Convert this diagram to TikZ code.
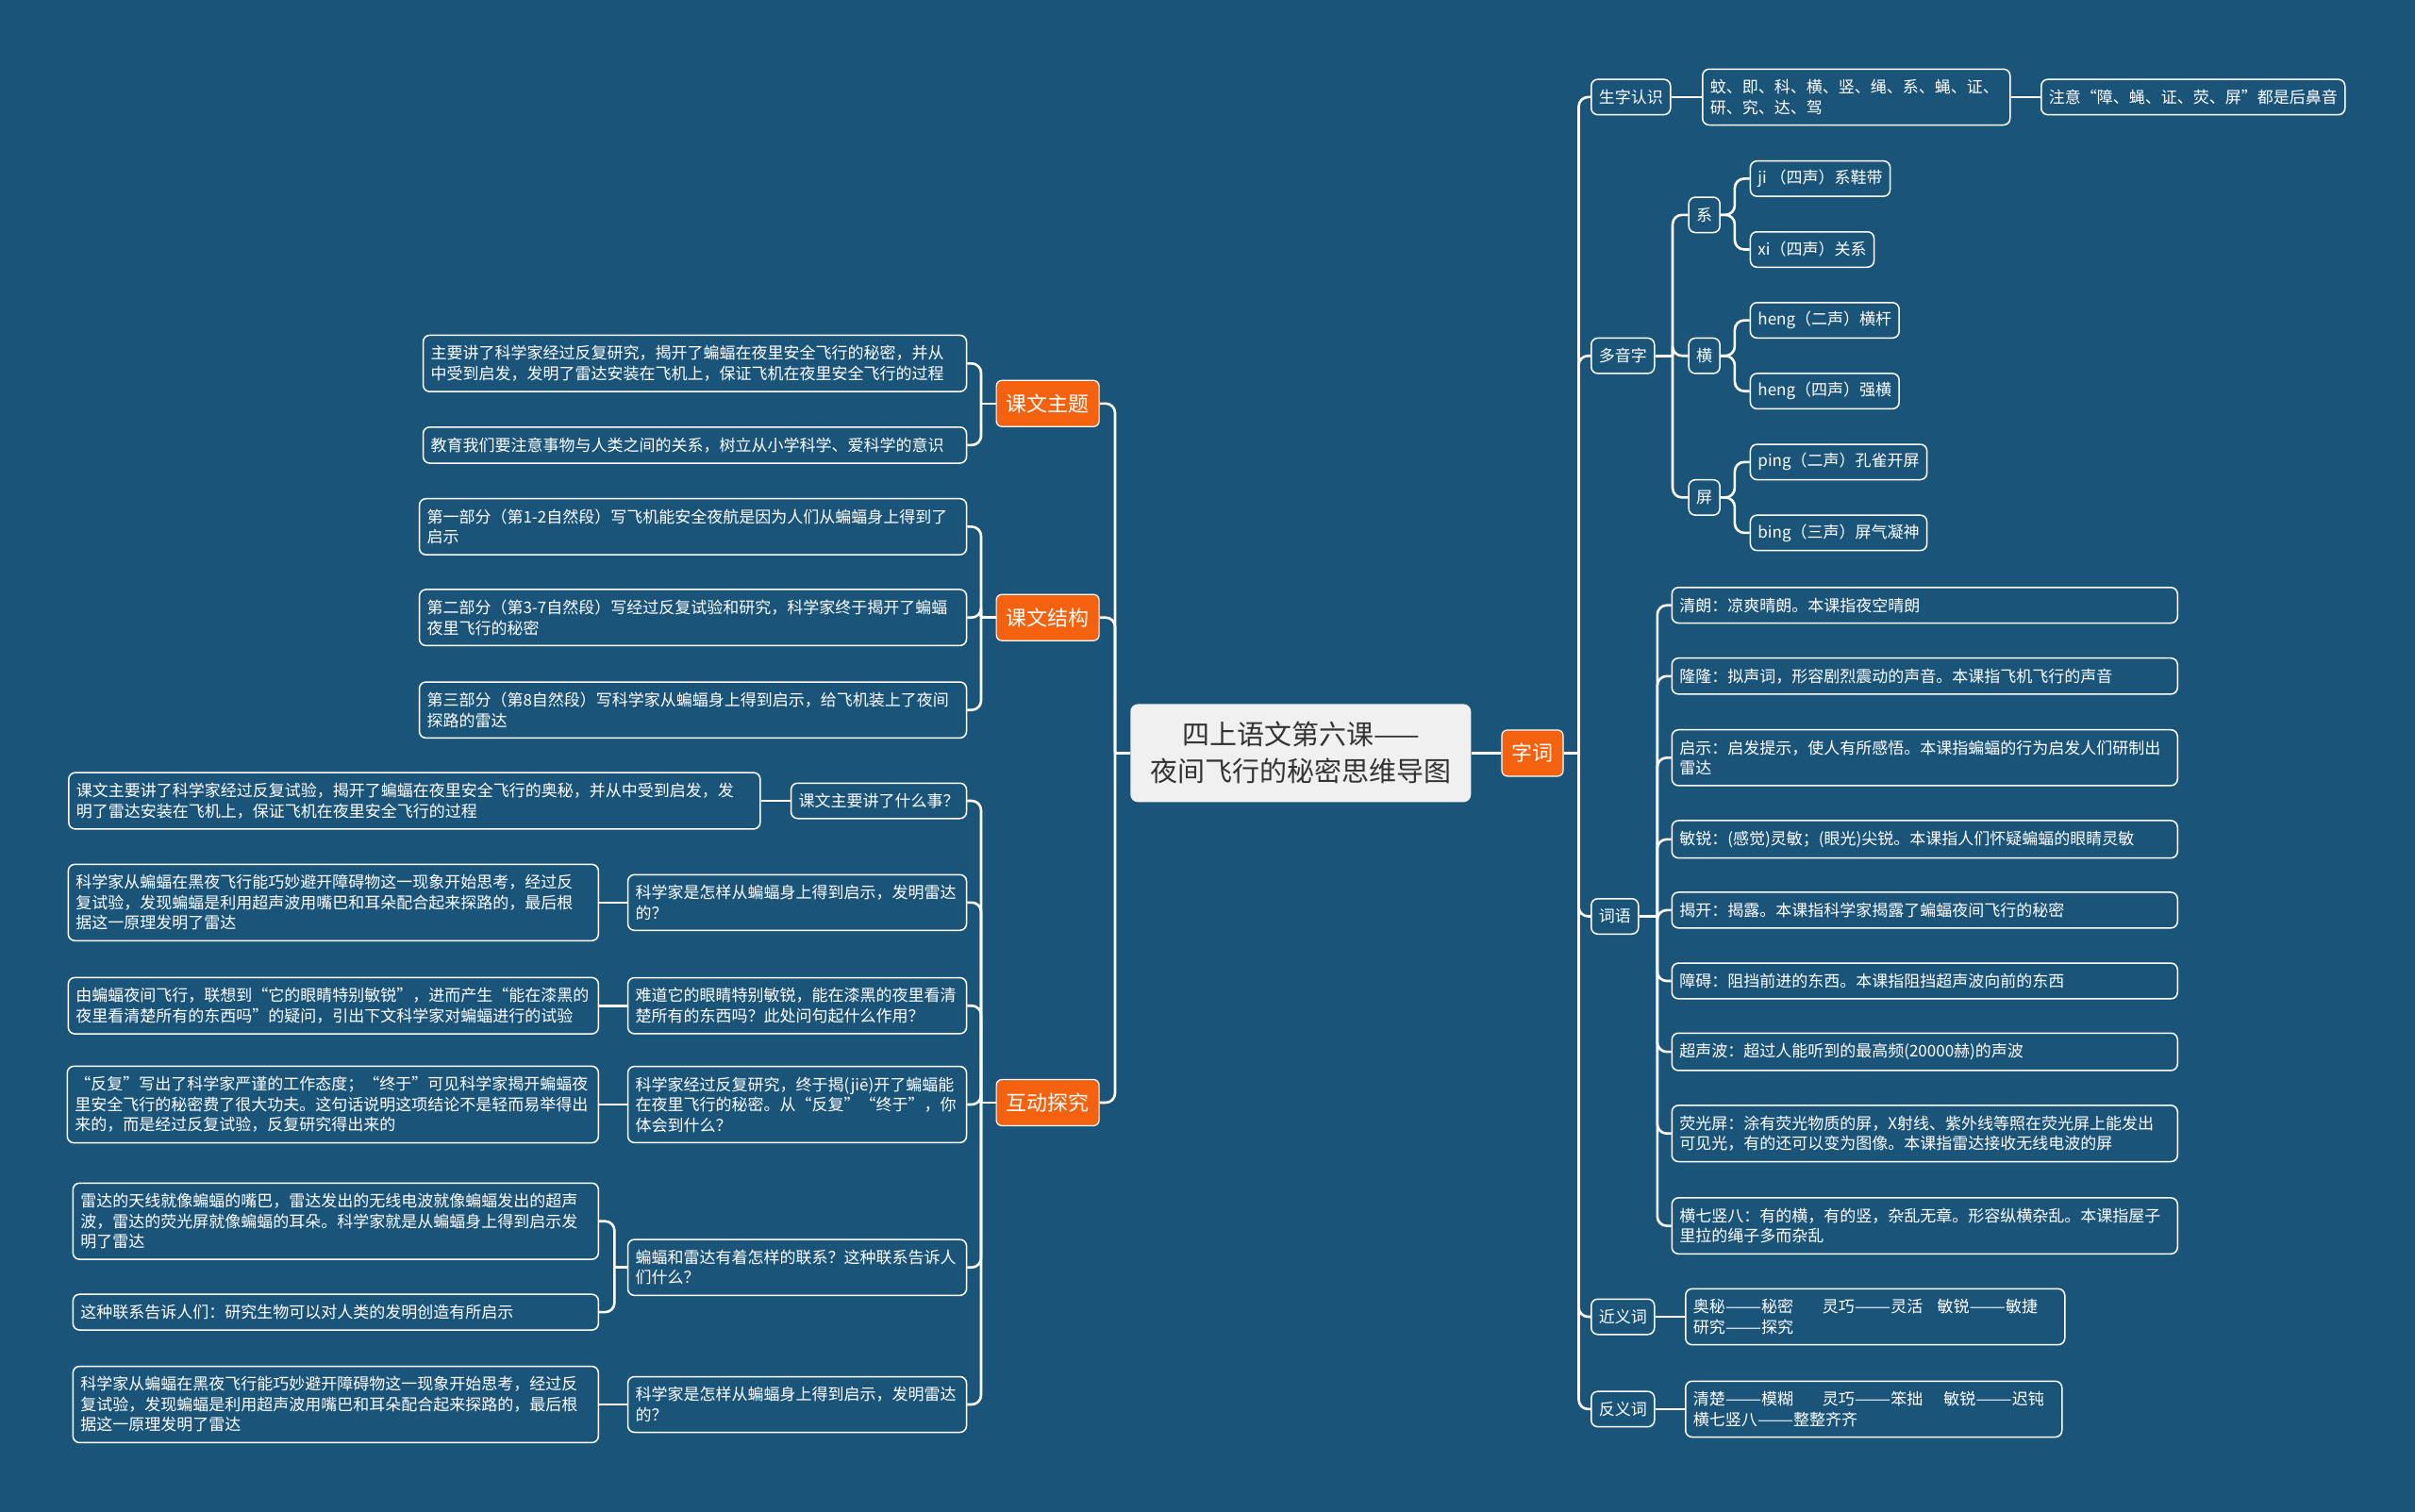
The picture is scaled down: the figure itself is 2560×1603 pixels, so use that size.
\documentclass[tikz,border=0pt]{standalone}
\usepackage{fontspec}
\usepackage{graphicx}
\newfontfamily\cjk{Noto Sans CJK SC}
\newcommand{\pairdash}{\scalebox{1.35}[1]{——}}
\definecolor{bgblue}{RGB}{27,84,121}
\definecolor{topicorange}{RGB}{244,98,16}
\definecolor{rootgray}{RGB}{240,240,240}
\definecolor{roottext}{RGB}{51,51,51}

\begin{document}
\begin{tikzpicture}[x=1pt, y=-1pt,
	rootbox/.style={ fill=rootgray, text=roottext, rounded corners=8pt, font=\cjk\fontsize{29}{39}\selectfont, align=center, minimum width=361pt, minimum height=104pt, inner sep=0pt },
	topicbox/.style={ fill=topicorange, draw=white, line width=1.2pt, rounded corners=6pt, text=white, font=\cjk\fontsize{22}{26}\selectfont, minimum height=49pt, inner xsep=10.5pt },
	tagbox/.style={ draw=white, line width=1.5pt, rounded corners=7pt, text=white, font=\cjk\fontsize{17}{21.5}\selectfont, inner xsep=8pt, minimum height=37.5pt },
	leafbox/.style={ tagbox, align=left, text width=#1, inner ysep=11pt },
	linkline/.style={ draw=white, line width=2.6pt, rounded corners=10pt }
]

\fill[bgblue] (0,0) rectangle (2560,1603);

\node[rootbox] at (1378.8,798.4) (root) {四上语文第六课——\\夜间飞行的秘密思维导图};
\node[topicbox] at (1624.5,798.4) (zici) {字词};

\node[tagbox, anchor=west] at (1686,102.9) (szrs) {生字认识};
\node[leafbox=310pt, anchor=west] at (1804,102.9) (szA) {蚊、即、科、横、竖、绳、系、蝇、证、\\研、究、达、驾};
\node[tagbox, anchor=west] at (2163,102.9) (szB) {注意“障、蝇、证、荧、屏”都是后鼻音};

\node[tagbox, anchor=west] at (1686,377.2) (dyz) {多音字};
\node[tagbox, anchor=west] at (1789.4,227.8) (dxi) {系};
\node[tagbox, anchor=west] at (1789.4,377.2) (dheng) {横};
\node[tagbox, anchor=west] at (1789.4,527.4) (dping) {屏};
\node[tagbox, anchor=west] at (1854.7,189.4) (ji) {ji （四声）系鞋带};
\node[tagbox, anchor=west] at (1854.7,264.5) (xi) {xi（四声）关系};
\node[tagbox, anchor=west] at (1854.7,339.6) (hengA) {heng（二声）横杆};
\node[tagbox, anchor=west] at (1854.7,414.7) (hengB) {heng（四声）强横};
\node[tagbox, anchor=west] at (1854.7,489.8) (pingA) {ping（二声）孔雀开屏};
\node[tagbox, anchor=west] at (1854.7,564.9) (pingB) {bing（三声）屏气凝神};

\node[tagbox, anchor=west] at (1686,971.5) (ciyu) {词语};
\node[leafbox=520pt, anchor=west] at (1771.5,641.7) (w1) {清朗：凉爽晴朗。本课指夜空晴朗};
\node[leafbox=520pt, anchor=west] at (1771.5,716.8) (w2) {隆隆：拟声词，形容剧烈震动的声音。本课指飞机飞行的声音};
\node[leafbox=520pt, anchor=west] at (1771.5,803.3) (w3) {启示：启发提示，使人有所感悟。本课指蝙蝠的行为启发人们研制出\\雷达};
\node[leafbox=520pt, anchor=west] at (1771.5,889.8) (w4) {敏锐：(感觉)灵敏；(眼光)尖锐。本课指人们怀疑蝙蝠的眼睛灵敏};
\node[leafbox=520pt, anchor=west] at (1771.5,964.9) (w5) {揭开：揭露。本课指科学家揭露了蝙蝠夜间飞行的秘密};
\node[leafbox=520pt, anchor=west] at (1771.5,1040.0) (w6) {障碍：阻挡前进的东西。本课指阻挡超声波向前的东西};
\node[leafbox=520pt, anchor=west] at (1771.5,1115.1) (w7) {超声波：超过人能听到的最高频(20000赫)的声波};
\node[leafbox=520pt, anchor=west] at (1771.5,1201.7) (w8) {荧光屏：涂有荧光物质的屏，X射线、紫外线等照在荧光屏上能发出\\可见光，有的还可以变为图像。本课指雷达接收无线电波的屏};
\node[leafbox=520pt, anchor=west] at (1771.5,1299.6) (w9) {横七竖八：有的横，有的竖，杂乱无章。形容纵横杂乱。本课指屋子\\里拉的绳子多而杂乱};

\node[tagbox, anchor=west] at (1686,1396.0) (jyc) {近义词};
\node[leafbox=386pt, anchor=west] at (1786,1396.0) (jyA) {奥秘\pairdash 秘密\hspace{1.8em}灵巧\pairdash 灵活\hspace{0.9em}敏锐\pairdash 敏捷\\研究\pairdash 探究};
\node[tagbox, anchor=west] at (1686,1493.9) (fyc) {反义词};
\node[leafbox=383pt, anchor=west] at (1786,1493.9) (fyA) {清楚\pairdash 模糊\hspace{1.8em}灵巧\pairdash 笨拙\hspace{1.3em}敏锐\pairdash 迟钝\\横七竖八\pairdash 整整齐齐};

\node[topicbox, anchor=east] at (1165.7,427.8) (ktzt) {课文主题};
\node[topicbox, anchor=east] at (1165.7,654.7) (kwjg) {课文结构};
\node[topicbox, anchor=east] at (1165.7,1169.0) (hdtj) {互动探究};

\node[leafbox=560pt, anchor=east] at (1025.3,385.3) (z1) {主要讲了科学家经过反复研究，揭开了蝙蝠在夜里安全飞行的秘密，并从\\中受到启发，发明了雷达安装在飞机上，保证飞机在夜里安全飞行的过程};
\node[leafbox=560pt, anchor=east] at (1025.3,471.9) (z2) {教育我们要注意事物与人类之间的关系，树立从小学科学、爱科学的意识};

\node[leafbox=564pt, anchor=east] at (1025.3,558.4) (j1) {第一部分（第1-2自然段）写飞机能安全夜航是因为人们从蝙蝠身上得到了\\启示};
\node[leafbox=564pt, anchor=east] at (1025.3,654.7) (j2) {第二部分（第3-7自然段）写经过反复试验和研究，科学家终于揭开了蝙蝠\\夜里飞行的秘密};
\node[leafbox=564pt, anchor=east] at (1025.3,752.7) (j3) {第三部分（第8自然段）写科学家从蝙蝠身上得到启示，给飞机装上了夜间\\探路的雷达};

\node[tagbox, anchor=east] at (1025.3,849.0) (q1) {课文主要讲了什么事？};
\node[leafbox=343pt, anchor=east] at (1025.3,956.8) (q2) {科学家是怎样从蝙蝠身上得到启示，发明雷达\\的？};
\node[leafbox=343pt, anchor=east] at (1025.3,1066.2) (q3) {难道它的眼睛特别敏锐，能在漆黑的夜里看清\\楚所有的东西吗？此处问句起什么作用？};
\node[leafbox=343pt, anchor=east] at (1025.3,1171.0) (q4) {科学家经过反复研究，终于揭(jiē)开了蝙蝠能\\在夜里飞行的秘密。从“反复”“终于”，你\\体会到什么？};
\node[leafbox=343pt, anchor=east] at (1025.3,1343.7) (q5) {蝙蝠和雷达有着怎样的联系？这种联系告诉人\\们什么？};
\node[leafbox=343pt, anchor=east] at (1025.3,1489.0) (q6) {科学家是怎样从蝙蝠身上得到启示，发明雷达\\的？};

\node[leafbox=717pt, anchor=east] at (806.6,849.0) (a1) {课文主要讲了科学家经过反复试验，揭开了蝙蝠在夜里安全飞行的奥秘，并从中受到启发，发\\明了雷达安装在飞机上，保证飞机在夜里安全飞行的过程};
\node[leafbox=546pt, anchor=east] at (635.1,956.8) (a2) {科学家从蝙蝠在黑夜飞行能巧妙避开障碍物这一现象开始思考，经过反\\复试验，发现蝙蝠是利用超声波用嘴巴和耳朵配合起来探路的，最后根\\据这一原理发明了雷达};
\node[leafbox=546pt, anchor=east] at (635.1,1066.2) (a3) {由蝙蝠夜间飞行，联想到“它的眼睛特别敏锐”，进而产生“能在漆黑的\\夜里看清楚所有的东西吗”的疑问，引出下文科学家对蝙蝠进行的试验};
\node[leafbox=547pt, anchor=east] at (635.1,1171.0) (a4) {“反复”写出了科学家严谨的工作态度；“终于”可见科学家揭开蝙蝠夜\\里安全飞行的秘密费了很大功夫。这句话说明这项结论不是轻而易举得出\\来的，而是经过反复试验，反复研究得出来的};
\node[leafbox=541pt, anchor=east] at (635.1,1294.7) (a5a) {雷达的天线就像蝙蝠的嘴巴，雷达发出的无线电波就像蝙蝠发出的超声\\波，雷达的荧光屏就像蝙蝠的耳朵。科学家就是从蝙蝠身上得到启示发\\明了雷达};
\node[leafbox=541pt, anchor=east] at (635.1,1391.1) (a5b) {这种联系告诉人们：研究生物可以对人类的发明创造有所启示};
\node[leafbox=541pt, anchor=east] at (635.1,1489.0) (a6) {科学家从蝙蝠在黑夜飞行能巧妙避开障碍物这一现象开始思考，经过反\\复试验，发现蝙蝠是利用超声波用嘴巴和耳朵配合起来探路的，最后根\\据这一原理发明了雷达};

\coordinate (jR) at (1673.5,798.4);
\coordinate (jD) at (1773,377.2);
\coordinate (jC) at (1756.8,971.5);
\coordinate (jL) at (1182,798.4);
\coordinate (jZ) at (1040,427.8);
\coordinate (jJ) at (1040,654.7);
\coordinate (jH) at (1040,1169.0);
\coordinate (jQ) at (651.4,1343.7);

\draw[linkline] (root) -- (zici);
\draw[linkline] (zici) -- (jR);
\foreach \c in {szrs,dyz,ciyu,jyc,fyc} \draw[linkline] (jR) |- (\c.west);
\draw[linkline] (szrs) -- (szA);
\draw[linkline] (szA) -- (szB);
\draw[linkline] (dyz) -- (jD);
\foreach \c in {dxi,dheng,dping} \draw[linkline] (jD) |- (\c.west);
\foreach \p/\a/\b in {dxi/ji/xi, dheng/hengA/hengB, dping/pingA/pingB} {
	\draw[linkline] (\p.east) -- ++(15,0) |- (\a.west);
	\draw[linkline] (\p.east) -- ++(15,0) |- (\b.west);
}
\draw[linkline] (ciyu) -- (jC);
\foreach \i in {1,...,9} \draw[linkline] (jC) |- (w\i.west);
\draw[linkline] (jyc) -- (jyA);
\draw[linkline] (fyc) -- (fyA);

\draw[linkline] (root) -- (jL);
\foreach \c in {ktzt,kwjg,hdtj} \draw[linkline] (jL) |- (\c.east);
\draw[linkline] (ktzt) -- (jZ);
\foreach \c in {z1,z2} \draw[linkline] (jZ) |- (\c.east);
\draw[linkline] (kwjg) -- (jJ);
\foreach \c in {j1,j2,j3} \draw[linkline] (jJ) |- (\c.east);
\draw[linkline] (hdtj) -- (jH);
\foreach \c in {q1,q2,q3,q4,q5,q6} \draw[linkline] (jH) |- (\c.east);
\foreach \i in {1,2,3,4,6} \draw[linkline] (q\i) -- (a\i);
\draw[linkline] (q5) -- (jQ);
\foreach \c in {a5a,a5b} \draw[linkline] (jQ) |- (\c.east);

\end{tikzpicture}
\end{document}
